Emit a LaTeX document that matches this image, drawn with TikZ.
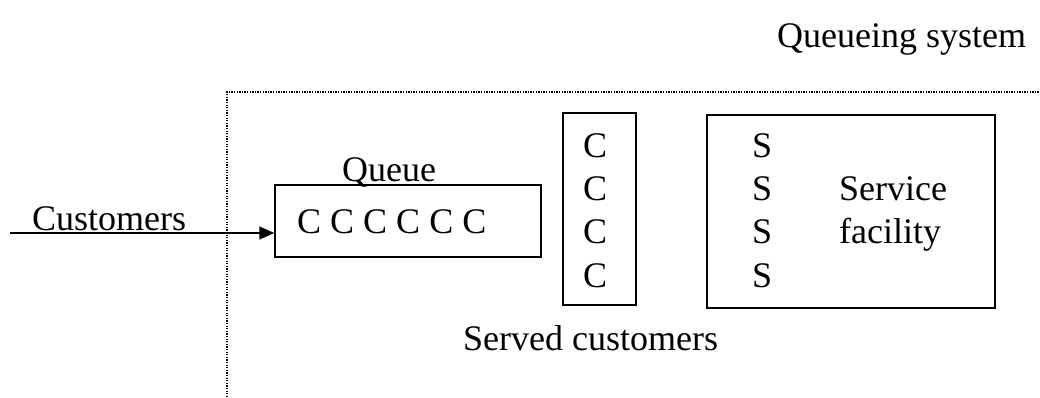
\documentclass[tikz,border=0pt]{standalone}
\usepackage{fontspec}
\setmainfont{Liberation Serif}
\usetikzlibrary{arrows.meta}
\begin{document}
\begin{tikzpicture}[x=1pt,y=-1pt,
  lbl/.style={anchor=base west,inner sep=0pt,font=\fontsize{36}{37}\selectfont},
  boxed/.style={draw,line width=1.5pt,minimum width=#1,inner sep=0pt},
  dotline/.style={line width=1.3pt,dash pattern=on 1.3pt off 1.3pt},
  flow/.style={line width=1.5pt,-{Triangle[length=15pt,width=13pt]}}]
\useasboundingbox (0,0) rectangle (1040,397);
% system boundary
\coordinate (sysB) at (227,397);
\coordinate (sysC) at (227,92);
\coordinate (sysR) at (1040,92);
\draw[dotline] (sysB) -- (sysC) -- (sysR);
\node[lbl] (qs) at (777,47) {Queueing system};
% boxes
\node[boxed=266pt,minimum height=72pt] (queue) at (408,221) {};
\node[boxed=73pt,minimum height=192pt] (served) at (599.5,209) {};
\node[boxed=288pt,minimum height=193pt] (facility) at (851,211.5) {};
% texts
\node[lbl] (qlabel) at (342,181) {Queue};
\node[lbl] (qc) at (297,233) {C C C C C C};
\node[lbl] (c1) at (583,157) {C};
\node[lbl] (c2) at (583,200) {C};
\node[lbl] (c3) at (583,243) {C};
\node[lbl] (c4) at (583,287) {C};
\node[lbl] (s1) at (752,157) {S};
\node[lbl] (s2) at (752,200) {S};
\node[lbl] (s3) at (752,243) {S};
\node[lbl] (s4) at (752,287) {S};
\node[lbl] (svc) at (839,200) {Service};
\node[lbl] (fac) at (839,243) {facility};
\node[lbl] (scust) at (463,350) {Served customers};
% arrival
\node[lbl] (cust) at (32,230) {Customers};
\coordinate (in) at (10,233);
\draw[flow] (in) -- (in -| queue.west);
\end{tikzpicture}
\end{document}
